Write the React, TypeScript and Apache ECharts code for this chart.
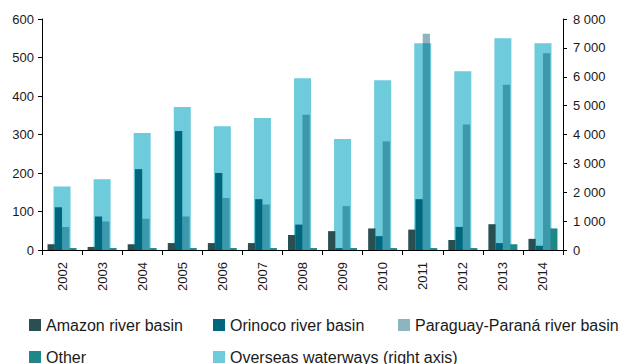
import React, { useEffect, useRef } from "react";
import * as echarts from "echarts";

const years = ["2002","2003","2004","2005","2006","2007","2008","2009","2010","2011","2012","2013","2014"];
const amazon = [15, 8, 15, 18, 18, 18, 39, 49, 56, 53, 26, 67, 29];
const orinoco = [111, 87, 210, 309, 200, 132, 66, 5, 36, 132, 60, 18, 11];
const paraguay = [60, 74, 81, 87, 135, 118, 351, 114, 282, 562, 326, 429, 511];
const other = [5, 5, 5, 5, 5, 5, 5, 5, 5, 5, 5, 15, 56];
const overseas = [2200, 2450, 4050, 4950, 4290, 4570, 5950, 3840, 5880, 7160, 6190, 7330, 7160];

const leftTicks = { min: 0, max: 600, interval: 100 };
const rightTicks = { min: 0, max: 8000, interval: 1000 };

const FONT = "'Liberation Sans', Arial, sans-serif";
const TXT = "#1a1a1a";

const names = {
  amazon: "Amazon river basin",
  orinoco: "Orinoco river basin",
  paraguay: "Paraguay-Paraná river basin",
  other: "Other",
  overseas: "Overseas waterways (right axis)",
};

const colors = {
  amazon: "#2a4f53",
  orinoco: "#00667b",
  paraguay: "rgba(0, 90, 112, 0.45)",
  other: "#1f8787",
  overseas: "#6dcbdc",
};

export default function App() {
  const ref = useRef<HTMLDivElement>(null);
  useEffect(() => {
    if (!ref.current) return;
    const chart = echarts.init(ref.current, null, { renderer: "svg" });
    const legendBase = {
      itemWidth: 12,
      itemHeight: 12,
      itemGap: 5,
      padding: 0,
      icon: "rect",
      selectedMode: false,
      textStyle: { fontSize: 16, color: TXT, fontFamily: FONT },
    };
    const axisLine = { show: true, lineStyle: { color: "#000", width: 1 } };
    const axisTick = { show: true, length: 4, lineStyle: { color: "#000", width: 1 } };
    chart.setOption({
      animation: false,
      textStyle: { fontFamily: FONT },
      grid: { left: 42, right: 59, top: 19, bottom: 114, containLabel: false },
      legend: [
        { ...legendBase, data: [names.amazon], left: 29, top: 317 },
        { ...legendBase, data: [names.orinoco], left: 213, top: 317 },
        { ...legendBase, data: [names.paraguay], left: 398, top: 317 },
        { ...legendBase, data: [names.other], left: 29, top: 349 },
        { ...legendBase, data: [names.overseas], left: 213, top: 349 },
      ],
      xAxis: [
        {
          type: "category",
          data: years,
          axisLine,
          axisTick: { show: true, length: 5, alignWithLabel: false, lineStyle: { color: "#000" } },
          axisLabel: { rotate: 90, fontSize: 13, color: TXT, margin: 12, fontFamily: FONT },
          splitLine: { show: false },
        },
        {
          type: "category",
          data: years,
          show: false,
          position: "bottom",
        },
      ],
      yAxis: [
        {
          type: "value",
          ...leftTicks,
          axisLine,
          axisTick,
          splitLine: { show: false },
          axisLabel: { fontSize: 13, color: TXT, margin: 8, fontFamily: FONT },
        },
        {
          type: "value",
          position: "right",
          ...rightTicks,
          axisLine,
          axisTick,
          splitLine: { show: false },
          axisLabel: {
            fontSize: 13,
            color: TXT,
            margin: 10,
            fontFamily: FONT,
            formatter: (v: number) => String(v).replace(/\B(?=(\d{3})+(?!\d))/g, " "),
          },
        },
      ],
      series: [
        {
          name: names.overseas,
          type: "bar",
          xAxisIndex: 1,
          yAxisIndex: 1,
          data: overseas,
          barWidth: 17,
          itemStyle: { color: colors.overseas },
          z: 1,
        },
        {
          name: names.amazon,
          type: "bar",
          data: amazon,
          barWidth: 7.25,
          barGap: "0%",
          itemStyle: { color: colors.amazon },
          z: 3,
        },
        {
          name: names.orinoco,
          type: "bar",
          data: orinoco,
          barWidth: 7.25,
          barGap: "0%",
          itemStyle: { color: colors.orinoco },
          z: 3,
        },
        {
          name: names.paraguay,
          type: "bar",
          data: paraguay,
          barWidth: 7.25,
          barGap: "0%",
          itemStyle: { color: colors.paraguay },
          z: 3,
        },
        {
          name: names.other,
          type: "bar",
          data: other,
          barWidth: 7.25,
          barGap: "0%",
          itemStyle: { color: colors.other },
          z: 3,
        },
      ],
    });
    return () => chart.dispose();
  }, []);
  return (
    <div
      ref={ref}
      style={{ position: "fixed", left: 0, top: 0, width: 622, height: 364, background: "#fff" }}
    />
  );
}
